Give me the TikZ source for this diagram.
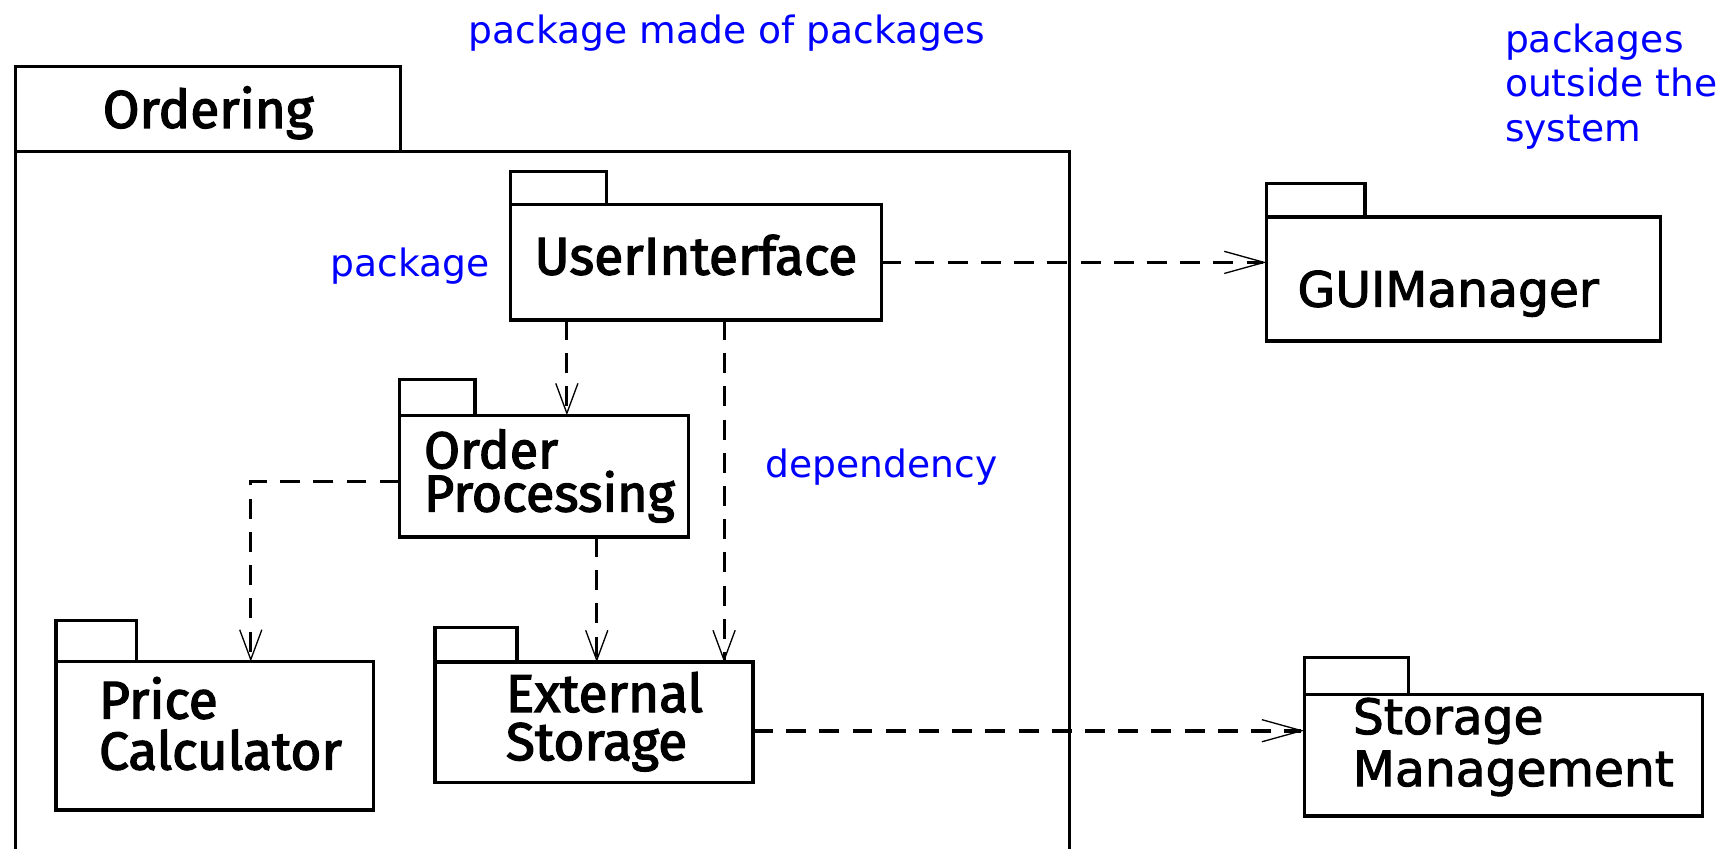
\documentclass[tikz,border=0pt]{standalone}
\usepackage{fontspec}
\usetikzlibrary{positioning,arrows.meta,calc}
\newfontfamily\pkgfont[FakeBold=2.5]{Fira Sans}
\newfontfamily\extfont[FakeBold=2]{DejaVu Sans}
\newfontfamily\notefont{DejaVu Sans}

\begin{document}
\begin{tikzpicture}[x=0.5pt, y=-0.5pt]
  \tikzset{
    pkg/.style = {rectangle, draw, line width=1.5pt, outer sep=0pt, inner ysep=0pt, align=left, font=\pkgfont\fontsize{24}{23}\selectfont},
    pkgtab/.style = {rectangle, draw, line width=1.5pt, outer sep=0pt, inner sep=0pt},
    note/.style = {text=blue, inner sep=0pt, font=\notefont\fontsize{17}{20.25}\selectfont},
    dep/.style = {dash pattern=on 9pt off 6pt, line width=1.3pt, -{Straight Barb[length=13.5pt,width=10pt,line width=0.6pt]}},
    deph/.style = {dep, line width=1.7pt, -{Straight Barb[length=18pt,width=10pt,line width=0.6pt]}}
  }
  \useasboundingbox (0,0) rectangle (1568,766);
  \clip (0,0) rectangle (1568,766);

  % the enclosing package
  \node [pkgtab, minimum width=174pt, minimum height=38.5pt, font=\pkgfont\fontsize{24}{24}\selectfont, text height=17pt, text depth=0pt] (ordering) at (188,98.5) {Ordering};
  \node [pkgtab, minimum width=476pt, minimum height=330pt, anchor=north west] (orderingbody) at (ordering.south west) {};

  % packages inside
  \node [pkg, minimum width=167.5pt, minimum height=52pt, align=center, text height=11pt, text depth=0pt] (ui) at (628.5,237) {UserInterface};
  \node [pkg, text width=108.5pt, inner xsep=11pt, minimum height=55pt, text height=0pt, text depth=7pt, font=\pkgfont\fontsize{23.5}{19.5}\selectfont] (op) at (491.5,430) {Order\\Processing};
  \node [pkg, text width=104.5pt, inner xsep=19.5pt, minimum height=67pt, text height=0pt, text depth=15.5pt] (pc) at (194,664.5) {Price\\Calculator};
  \node [pkg, text width=79.5pt, inner xsep=32pt, minimum height=54.5pt, text height=0pt, text depth=9.5pt, font=\pkgfont\fontsize{24}{21.75}\selectfont] (es) at (536.5,652.5) {External\\Storage};

  % packages outside
  \node [pkg, text width=150pt, inner xsep=14pt, minimum height=56pt, text height=25pt, text depth=0pt, font=\extfont\fontsize{22}{22}\selectfont] (gui) at (1322,252) {GUIManager};
  \node [pkg, text width=136pt, inner xsep=22pt, minimum height=55pt, text height=0pt, text depth=19pt, font=\extfont\fontsize{22}{23.5}\selectfont] (sm) at (1358,682) {Storage\\Management};

  % tabs
  \node [pkgtab, minimum width=43.5pt, minimum height=15pt, above right=0pt and 0pt of ui.north west] (uitab) {};
  \node [pkgtab, minimum width=34pt, minimum height=16pt, above right=0pt and 0pt of op.north west] (optab) {};
  \node [pkgtab, minimum width=36.5pt, minimum height=18.5pt, above right=0pt and 0pt of pc.north west] (pctab) {};
  \node [pkgtab, minimum width=37pt, minimum height=15.5pt, above right=0pt and 0pt of es.north west] (estab) {};
  \node [pkgtab, minimum width=44.5pt, minimum height=15pt, above right=0pt and 0pt of gui.north west] (guitab) {};
  \node [pkgtab, minimum width=47pt, minimum height=16.5pt, above right=0pt and 0pt of sm.north west] (smtab) {};

  % dependencies
  \coordinate (uiop) at ($(ui.south west)+(51,0)$);
  \coordinate (uies) at ($(ui.south west)+(193,0)$);
  \coordinate (opes) at ($(op.south west)+(178,0)$);
  \coordinate (essm) at ($(es.east)+(0,7.5)$);
  \draw [deph] (ui.east) -- (ui.east -| gui.west);
  \draw [dep] (uiop) -- (uiop |- op.north);
  \draw [dep] (uies) -- (uies |- es.north);
  \draw [dep] (opes) -- (opes |- es.north);
  \draw [dep] ($(op.west)+(0,5)$) -| ($(pc.north west)+(176,0)$);
  \draw [deph] (essm) -- (essm -| sm.west);

  % notes
  \node [note, anchor=base west] (madeof) at (423,39) {package made of packages};
  \node [note, anchor=base west, align=left] (outside) at (1359,128) {packages\\outside the\\system};
  \node [note, anchor=base west] (pkgnote) at (298,250) {package};
  \node [note, anchor=base west] (depnote) at (691,431) {dependency};
\end{tikzpicture}
\end{document}
